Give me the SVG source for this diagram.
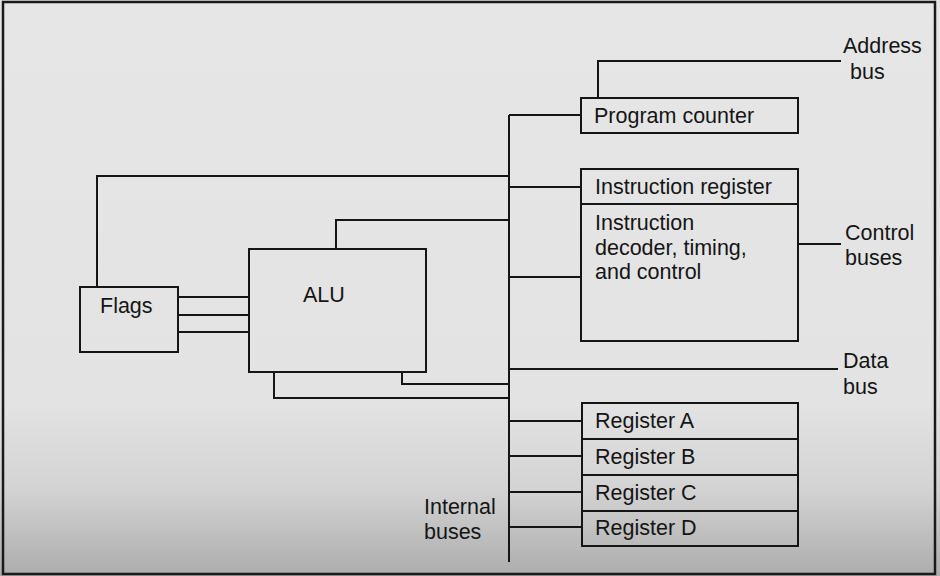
<svg xmlns="http://www.w3.org/2000/svg" width="940" height="576" viewBox="0 0 940 576">
<defs>
<linearGradient id="bg" x1="0" y1="0" x2="0" y2="1">
<stop offset="0" stop-color="#e6e6e6"/>
<stop offset="0.7" stop-color="#e3e3e3"/>
<stop offset="0.85" stop-color="#d3d3d3"/>
<stop offset="1" stop-color="#acacac"/>
</linearGradient>
<style>
.box{fill:none;stroke:#151515;stroke-width:2}
.ln{fill:none;stroke:#151515;stroke-width:2}
text{font-family:"Liberation Sans",Arial,sans-serif;font-size:21.5px;fill:#151515}
</style>
</defs>
<rect x="0" y="0" width="940" height="576" fill="url(#bg)"/>
<rect x="3" y="2" width="932" height="572" fill="none" stroke="#1a1a1a" stroke-width="2.5"/>

<g id="connectors" class="ln">
<path class="ln" d="M509,115 V562"/>
<path class="ln" d="M509,115 H581"/>
<path class="ln" d="M598,98 V61 H841"/>
<path class="ln" d="M97,287 V176 H509"/>
<path class="ln" d="M509,187 H581"/>
<path class="ln" d="M336,249 V220 H509"/>
<path class="ln" d="M509,277 H581"/>
<path class="ln" d="M798,244 H841"/>
<path class="ln" d="M509,369 H838"/>
<path class="ln" d="M402,372 V384 H509"/>
<path class="ln" d="M274,372 V398 H509"/>
<path class="ln" d="M178,297 H249 M178,315 H249 M178,332 H249"/>
<path class="ln" d="M509,421 H582 M509,456 H582 M509,492 H582 M509,527 H582"/>
</g>

<g id="flags">
<rect class="box" x="80" y="287" width="98" height="65"/>
<text x="100" y="313">Flags</text>
</g>
<g id="alu">
<rect class="box" x="249" y="249" width="177" height="123"/>
<text x="303" y="302">ALU</text>
</g>
<g id="program-counter">
<rect class="box" x="581" y="98" width="217" height="35"/>
<text x="594" y="123">Program counter</text>
</g>
<g id="instruction-register">
<rect class="box" x="581" y="169" width="217" height="35"/>
<text x="595" y="194">Instruction register</text>
</g>
<g id="decoder">
<rect class="box" x="581" y="204" width="217" height="137"/>
<text x="595" y="230">Instruction</text>
<text x="595" y="255">decoder, timing,</text>
<text x="595" y="279">and control</text>
</g>
<g id="register-a">
<rect class="box" x="582" y="403" width="216" height="36"/>
<text x="595" y="428">Register A</text>
</g>
<g id="register-b">
<rect class="box" x="582" y="439" width="216" height="36"/>
<text x="595" y="464">Register B</text>
</g>
<g id="register-c">
<rect class="box" x="582" y="475" width="216" height="36"/>
<text x="595" y="500">Register C</text>
</g>
<g id="register-d">
<rect class="box" x="582" y="511" width="216" height="35"/>
<text x="595" y="535">Register D</text>
</g>

<g id="address-bus-label">
<text x="843" y="53">Address</text>
<text x="850" y="79">bus</text>
</g>
<g id="control-buses-label">
<text x="845" y="240">Control</text>
<text x="845" y="265">buses</text>
</g>
<g id="data-bus-label">
<text x="843" y="368">Data</text>
<text x="843" y="394">bus</text>
</g>
<g id="internal-buses-label">
<text x="424" y="514">Internal</text>
<text x="424" y="539">buses</text>
</g>
</svg>
